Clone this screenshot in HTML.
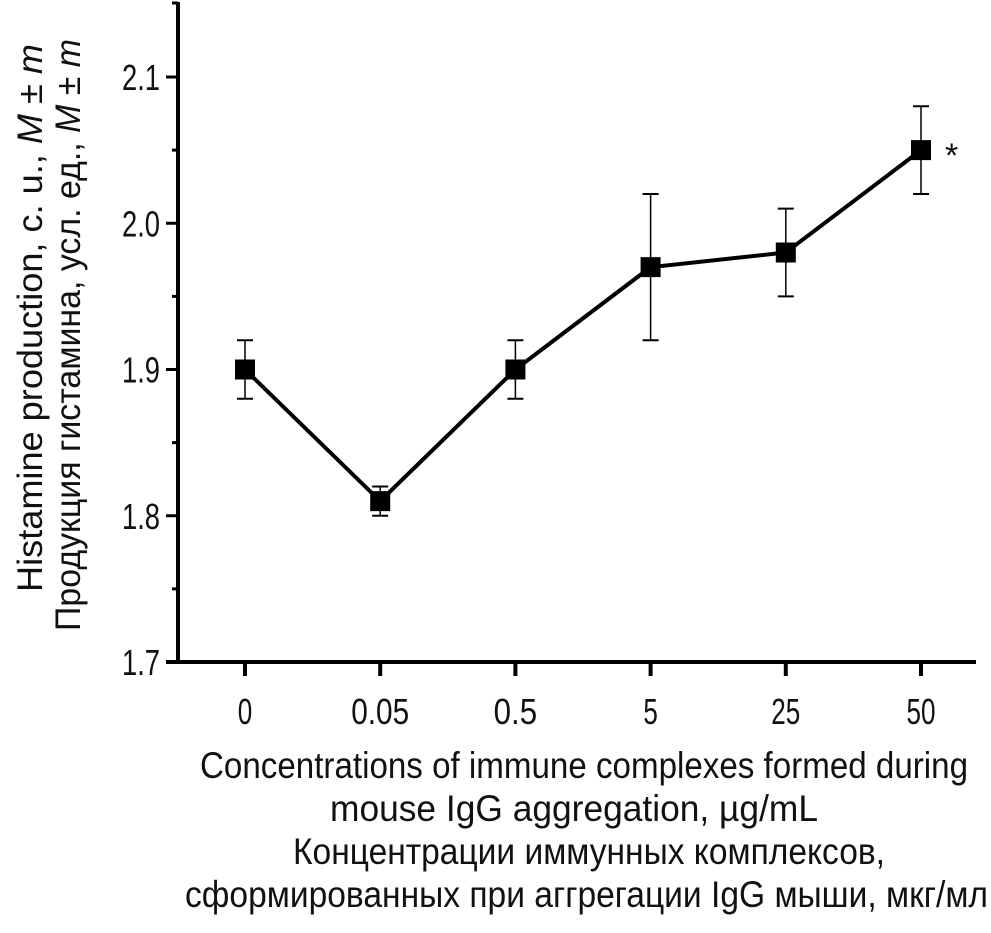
<!DOCTYPE html>
<html><head><meta charset="utf-8"><style>
body{margin:0;background:#fff;width:991px;height:928px;overflow:hidden}
text{font-family:"Liberation Sans",sans-serif;fill:#111}
</style></head><body>
<svg id="c" width="991" height="928"></svg>
<script>
const categories=["0","0.05","0.5","5","25","50"];
const means=[1.90,1.81,1.90,1.97,1.98,2.05];
const errUp=[0.02,0.01,0.02,0.05,0.03,0.03];
const errDown=[0.02,0.01,0.02,0.05,0.03,0.03];
const yTicks=[1.7,1.8,1.9,2.0,2.1];
const yTickLabels=["1.7","1.8","1.9","2.0","2.1"];
const NS="http://www.w3.org/2000/svg";
const svg=document.getElementById('c');
const y=v=>662-(v-1.7)*1462.5;
const x=i=>245+i*135.2;
function el(t,a,p){const e=document.createElementNS(NS,t);for(const k in a)e.setAttribute(k,a[k]);(p||svg).appendChild(e);return e;}
let e;
e=el('line',{x1:178,y1:2,x2:178,y2:664,stroke:'#000','stroke-width':4});


e=el('line',{x1:166,y1:662,x2:976,y2:662,stroke:'#000','stroke-width':4});


el('line',{x1:172,y1:3,x2:178,y2:3,stroke:'#000','stroke-width':3});
yTicks.forEach((v,i)=>{
  const t=el('line',{x1:166,y1:y(v),x2:178,y2:y(v),stroke:'#000','stroke-width':3});
  
  
  const l=el('text',{x:160,y:y(v)+13,'text-anchor':'end','font-size':36,textLength:38,lengthAdjust:'spacingAndGlyphs'});
  l.textContent=yTickLabels[i];
  
  
  if(i<yTicks.length-1){el('line',{x1:172,y1:y(v+0.05),x2:178,y2:y(v+0.05),stroke:'#000','stroke-width':3});}
});
categories.forEach((c,i)=>{
  const t=el('line',{x1:x(i),y1:662,x2:x(i),y2:676,stroke:'#000','stroke-width':4});
  
  
  const l=el('text',{x:x(i),y:724,'text-anchor':'middle','font-size':36,textLength:c.length*14.5,lengthAdjust:'spacingAndGlyphs'});
  l.textContent=c;
  
  
});
const pts=means.map((m,i)=>x(i)+','+y(m)).join(' ');
e=el('polyline',{points:pts,fill:'none',stroke:'#000','stroke-width':4});


means.forEach((m,i)=>{
  const g=el('g',{});
  
  
  el('line',{x1:x(i),y1:y(m+errUp[i]),x2:x(i),y2:y(m-errDown[i]),stroke:'#000','stroke-width':1.5},g);
  el('line',{x1:x(i)-8,y1:y(m+errUp[i]),x2:x(i)+8,y2:y(m+errUp[i]),stroke:'#000','stroke-width':2},g);
  el('line',{x1:x(i)-8,y1:y(m-errDown[i]),x2:x(i)+8,y2:y(m-errDown[i]),stroke:'#000','stroke-width':2},g);
  el('rect',{x:x(i)-10,y:y(m)-10,width:20,height:20,fill:'#000'},g);
});
e=el('text',{x:x(5)+24,y:y(means[5])+17,'font-size':34});
e.textContent='*';


</script>
<svg width="991" height="928" style="position:absolute;left:0;top:0">
<g>
<text transform="translate(42,318) rotate(-90)" text-anchor="middle" font-size="35" textLength="548" lengthAdjust="spacingAndGlyphs">Histamine production, c. u., <tspan font-style="italic">M</tspan> ± <tspan font-style="italic">m</tspan></text>
<text transform="translate(80,335) rotate(-90)" text-anchor="middle" font-size="35" textLength="592" lengthAdjust="spacingAndGlyphs">Продукция гистамина, усл. ед., <tspan font-style="italic">M</tspan> ± <tspan font-style="italic">m</tspan></text>
</g>
<g>
<text x="200" y="778" font-size="37" textLength="768" lengthAdjust="spacingAndGlyphs">Concentrations of immune complexes formed during</text>
<text x="330" y="821" font-size="37" textLength="488" lengthAdjust="spacingAndGlyphs">mouse IgG aggregation, µg/mL</text>
<text x="293" y="864" font-size="37" textLength="592" lengthAdjust="spacingAndGlyphs">Концентрации иммунных комплексов,</text>
<text x="185" y="907" font-size="37" textLength="803" lengthAdjust="spacingAndGlyphs">сформированных при аггрегации IgG мыши, мкг/мл</text>
</g>
</svg>
</body></html>
